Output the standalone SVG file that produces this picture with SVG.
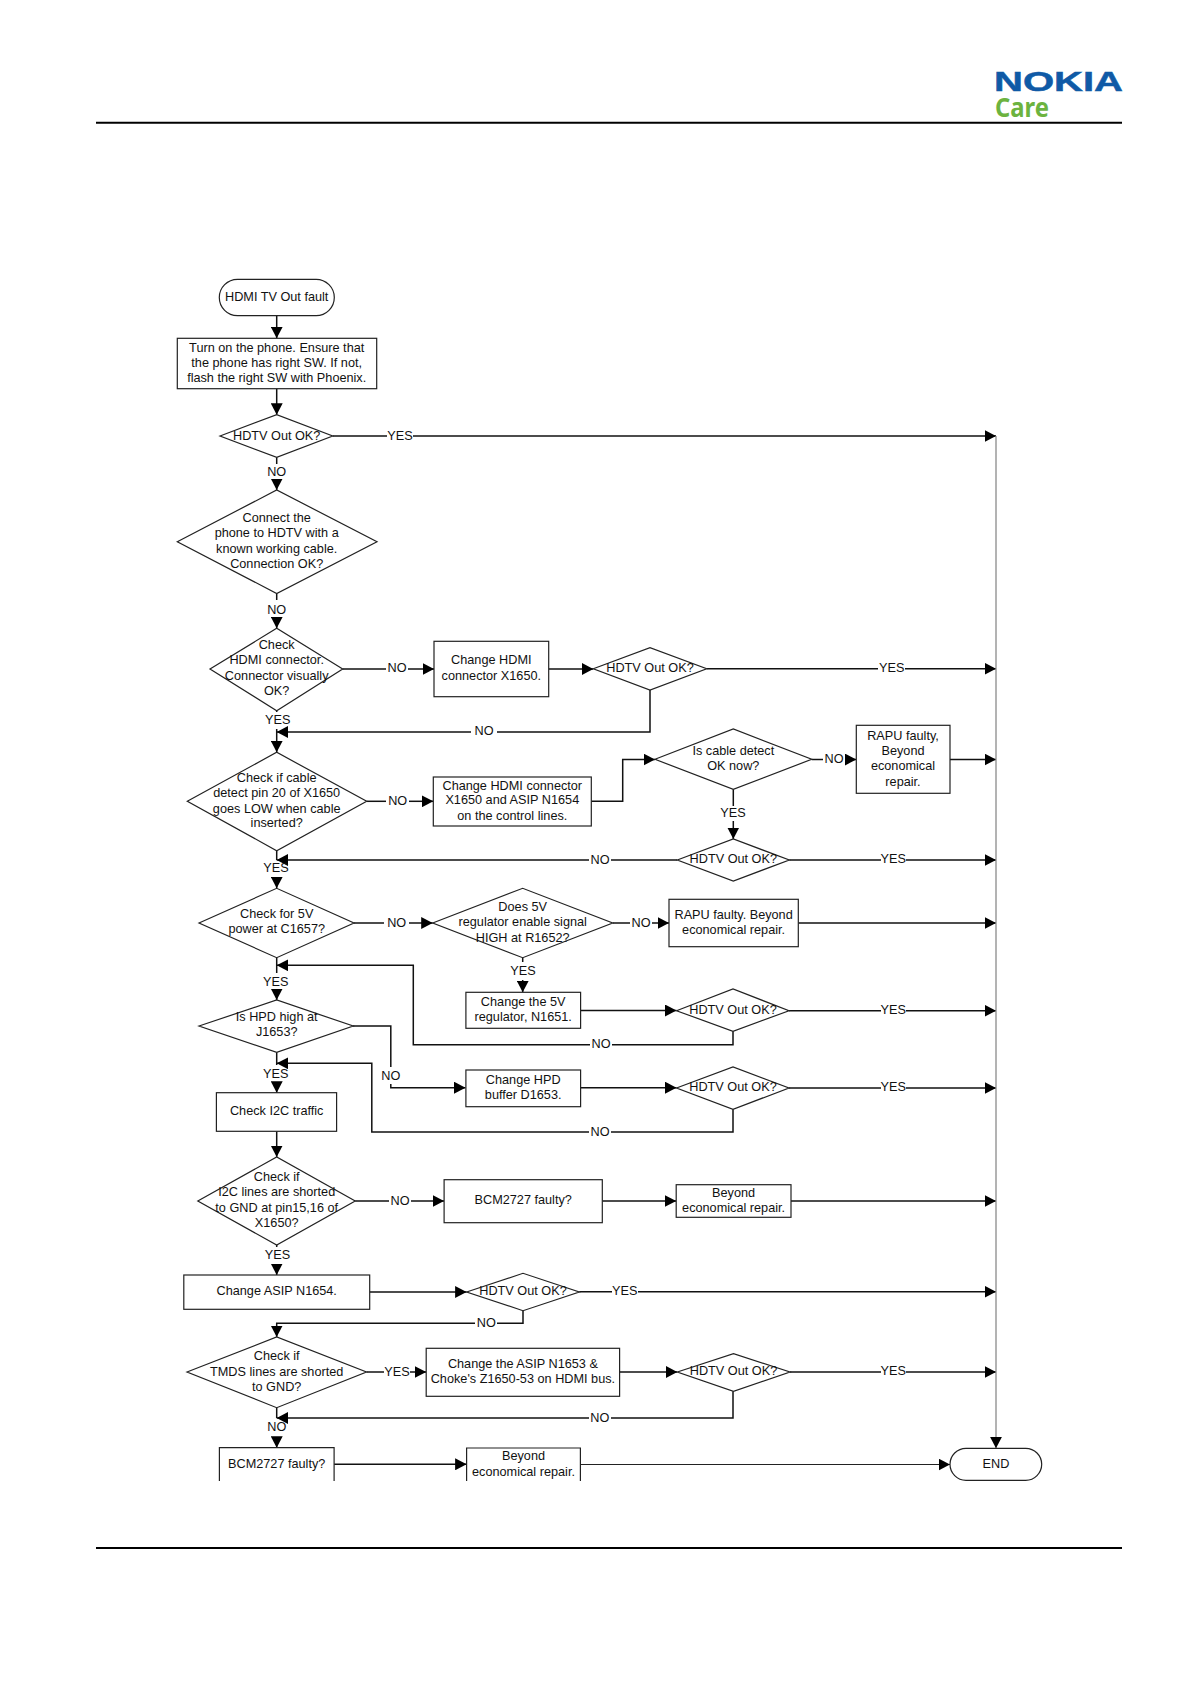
<svg xmlns="http://www.w3.org/2000/svg" width="1191" height="1684" viewBox="0 0 1191 1684">
<style>
text{font-family:"Liberation Sans",Arial,sans-serif;font-size:12.7px;fill:#111;text-anchor:middle;transform:translateY(-0.6px)}
.s{fill:#fff;stroke:#222;stroke-width:1.2}
.c{fill:none;stroke:#111;stroke-width:1.5}
.t{fill:none;stroke:#222;stroke-width:1.1}
.g{fill:none;stroke:#8a8a8a;stroke-width:1.3}
.r{stroke:#000;stroke-width:2}
.a{marker-end:url(#arrow)}
</style>
<defs>
<marker id="arrow" markerUnits="userSpaceOnUse" markerWidth="12" markerHeight="12" refX="11.5" refY="6" orient="auto"><path d="M0,0 L11.5,6 L0,12 Z" fill="#000"/></marker>
</defs>
<rect width="1191" height="1684" fill="#fff"/>
<g id="header">
<text x="1058.5" y="91.3" textLength="129" lengthAdjust="spacingAndGlyphs" style="font-size:28px;font-weight:bold;fill:#0f5aa6;stroke:#0f5aa6;stroke-width:0.5">NOKIA</text>
<text x="1022" y="117.6" textLength="54" lengthAdjust="spacingAndGlyphs" style="font-family:'Noto Sans',sans-serif;font-size:27px;font-weight:bold;fill:#6cb33f">Care</text>
<line class="r" x1="96" y1="122.7" x2="1122" y2="122.7"/>
</g>
<g id="footer"><line class="r" x1="96" y1="1548" x2="1122" y2="1548"/></g>
<g id="connectors">
<path class="c a" d="M276.7,315.7V338.3"/>
<path class="c a" d="M276.7,388.7V414.7"/>
<path class="c" d="M332.7,436H387"/><path class="c a" d="M413,436H996"/>
<path class="c" d="M276.7,457.3V464"/><path class="c a" d="M276.7,480V490"/>
<path class="c" d="M276.7,593.5V600"/><path class="c a" d="M276.7,618V628.3"/>
<path class="c" d="M342.7,669H386"/><path class="c a" d="M408,669H434"/>
<path class="c a" d="M548.7,669H593.3"/>
<path class="c" d="M706.7,668.7H878"/><path class="c a" d="M905,668.7H996"/>
<path class="c" d="M650,690V732H497"/><path class="c a" d="M471,732H276.7"/>
<path class="c" d="M276.7,710.7V712"/><path class="c a" d="M276.7,729V752.3"/>
<path class="c" d="M366.7,801.3H386"/><path class="c a" d="M409,801.3H433.3"/>
<path class="c a" d="M591.3,801.3H622.7V759.5H655"/>
<path class="c" d="M811.7,759.5H823"/><path class="c a" d="M845,759.5H856.3"/>
<path class="c a" d="M950,759.5H996"/>
<path class="c" d="M733.3,789.3V806"/><path class="c a" d="M733.3,821V839"/>
<path class="c" d="M789.3,860H881"/><path class="c a" d="M906,860H996"/>
<path class="c" d="M677.3,860H611"/><path class="c a" d="M589,860H276.7"/>
<path class="c" d="M276.7,850.7V860"/><path class="c a" d="M276.7,877V888.3"/>
<path class="c" d="M354,923H384"/><path class="c a" d="M409,923H432.7"/>
<path class="c" d="M612.7,923H630"/><path class="c a" d="M652,923H669"/>
<path class="c a" d="M798.3,923H996"/>
<path class="c" d="M522.7,957.7V962"/><path class="c a" d="M522.7,980V992.3"/>
<path class="c" d="M276.7,957.7V973"/><path class="c a" d="M276.7,991V1000"/>
<path class="c a" d="M580.6,1010.5H676.5"/>
<path class="c" d="M789,1010.7H881"/><path class="c a" d="M906,1010.7H996"/>
<path class="c" d="M733,1031.3V1044.7H612"/><path class="c a" d="M590,1044.7H413.3V965.3H276.7"/>
<path class="c" d="M353,1026H390.8V1067"/><path class="c a" d="M390.8,1084V1087.7H465.5"/>
<path class="c a" d="M580.6,1087.7H676.5"/>
<path class="c" d="M789,1088H881"/><path class="c a" d="M906,1088H996"/>
<path class="c" d="M733,1109.3V1132H611"/><path class="c a" d="M589,1132H371.8V1063.3H276.7"/>
<path class="c" d="M276.7,1052.3V1065"/><path class="c a" d="M276.7,1084V1092.7"/>
<path class="c a" d="M276.7,1131.3V1157"/>
<path class="c" d="M355.2,1201H389"/><path class="c a" d="M411,1201H444"/>
<path class="c a" d="M602.3,1201H676.2"/>
<path class="c a" d="M791,1201H996"/>
<path class="c" d="M276.7,1245V1247"/><path class="c a" d="M276.7,1264V1275"/>
<path class="c a" d="M369.7,1292H466.6"/>
<path class="c" d="M579.3,1291.7H612"/><path class="c a" d="M638,1291.7H996"/>
<path class="c" d="M523,1310.7V1323.3H497"/><path class="c a" d="M475,1323.3H276.7V1337"/>
<path class="c" d="M366.5,1372H384"/><path class="c a" d="M410,1372H426.2"/>
<path class="c a" d="M619.6,1372H677.3"/>
<path class="c" d="M790,1372H881"/><path class="c a" d="M906,1372H996"/>
<path class="c" d="M733,1391.3V1418H611"/><path class="c a" d="M589,1418H276.7"/>
<path class="c" d="M276.7,1407.7V1418"/><path class="c a" d="M276.7,1437V1447.7"/>
<path class="c a" d="M334.1,1464.3H466.6"/>
<path class="t a" d="M580.4,1464.5H950"/>
<path class="g a" d="M996,436V1448.3"/>
<text x="400" y="440.5">YES</text>
<text x="276.7" y="477">NO</text>
<text x="276.7" y="615">NO</text>
<text x="397" y="673">NO</text>
<text x="891.7" y="672.5">YES</text>
<text x="484" y="736">NO</text>
<text x="277.7" y="724.5">YES</text>
<text x="397.7" y="805.5">NO</text>
<text x="834" y="763.5">NO</text>
<text x="733" y="818">YES</text>
<text x="893.3" y="863.5">YES</text>
<text x="600" y="864.5">NO</text>
<text x="276" y="872.5">YES</text>
<text x="396.7" y="927.5">NO</text>
<text x="641" y="927.5">NO</text>
<text x="523" y="975.5">YES</text>
<text x="275.7" y="986.5">YES</text>
<text x="893.3" y="1014.5">YES</text>
<text x="601" y="1049">NO</text>
<text x="390.8" y="1080.5">NO</text>
<text x="893.3" y="1092">YES</text>
<text x="600" y="1136.5">NO</text>
<text x="275.7" y="1079">YES</text>
<text x="400" y="1205.5">NO</text>
<text x="277.5" y="1259.5">YES</text>
<text x="624.7" y="1295.5">YES</text>
<text x="486.3" y="1327.5">NO</text>
<text x="397" y="1376.5">YES</text>
<text x="893.3" y="1376">YES</text>
<text x="599.8" y="1422.5">NO</text>
<text x="276.8" y="1432">NO</text>
</g>
<g id="n-start"><rect class="s" x="219.3" y="279.3" width="115" height="36.4" rx="18.2"/><text x="276.7" y="301.5">HDMI TV Out fault</text></g>
<g id="n-turn-on"><rect class="s" x="177.3" y="338.3" width="199.4" height="50.4"/><text x="276.7" y="352.5">Turn on the phone. Ensure that</text><text x="276.7" y="367.5">the phone has right SW. If not,</text><text x="276.7" y="382.5">flash the right SW with Phoenix.</text></g>
<g id="n-d1"><polygon class="s" points="220,436 276.7,414.7 332.7,436 276.7,457.3"/><text x="276.7" y="440.5">HDTV Out OK?</text></g>
<g id="n-d2"><polygon class="s" points="177.3,541.7 276.7,490 377,541.7 276.7,593.5"/><text x="276.7" y="523">Connect the</text><text x="276.7" y="538">phone to HDTV with a</text><text x="276.7" y="553.2">known working cable.</text><text x="276.7" y="568.4">Connection OK?</text></g>
<g id="n-d3"><polygon class="s" points="210,669 276.7,628.3 342.7,669 276.7,710.7"/><text x="276.7" y="649.5">Check</text><text x="276.7" y="665">HDMI connector.</text><text x="276.7" y="680.5">Connector visually</text><text x="276.7" y="695.5">OK?</text></g>
<g id="n-change-hdmi"><rect class="s" x="434" y="641.3" width="114.7" height="55.4"/><text x="491.3" y="665">Change HDMI</text><text x="491.3" y="680.5">connector X1650.</text></g>
<g id="n-d4"><polygon class="s" points="593.3,668.7 650,647.7 706.7,668.7 650,690"/><text x="650" y="672.8">HDTV Out OK?</text></g>
<g id="n-d5"><polygon class="s" points="187.3,801.3 276.7,752.3 366.7,801.3 276.7,850.7"/><text x="276.7" y="782.5">Check if cable</text><text x="276.7" y="797.8">detect pin 20 of X1650</text><text x="276.7" y="813.3">goes LOW when cable</text><text x="276.7" y="828">inserted?</text></g>
<g id="n-change-hdmi-asip"><rect class="s" x="433.3" y="777" width="158" height="49"/><text x="512.3" y="790.5">Change HDMI connector</text><text x="512.3" y="805">X1650 and ASIP N1654</text><text x="512.3" y="820.3">on the control lines.</text></g>
<g id="n-d6"><polygon class="s" points="655,759.3 733.3,729 811.7,759.3 733.3,789.3"/><text x="733.3" y="755.5">Is cable detect</text><text x="733.3" y="770.5">OK now?</text></g>
<g id="n-rapu1"><rect class="s" x="856.3" y="725.3" width="93.7" height="68"/><text x="903" y="740.5">RAPU faulty,</text><text x="903" y="755.5">Beyond</text><text x="903" y="771">economical</text><text x="903" y="786.3">repair.</text></g>
<g id="n-d7"><polygon class="s" points="677.3,860 733.3,839 789.3,860 733.3,881"/><text x="733.3" y="864">HDTV Out OK?</text></g>
<g id="n-d8"><polygon class="s" points="199,923 276.7,888.3 354,923 276.7,957.7"/><text x="276.7" y="919">Check for 5V</text><text x="276.7" y="934">power at C1657?</text></g>
<g id="n-d9"><polygon class="s" points="432.7,923 522.7,888.3 612.7,923 522.7,957.7"/><text x="522.7" y="911.5">Does 5V</text><text x="522.7" y="927">regulator enable signal</text><text x="522.7" y="942.3">HIGH at R1652?</text></g>
<g id="n-rapu2"><rect class="s" x="669" y="899.3" width="129.3" height="47.4"/><text x="733.6" y="919.3">RAPU faulty. Beyond</text><text x="733.6" y="934.3">economical repair.</text></g>
<g id="n-change-5v"><rect class="s" x="465.9" y="992.3" width="114.7" height="36"/><text x="523.2" y="1006.6">Change the 5V</text><text x="523.2" y="1021.6">regulator, N1651.</text></g>
<g id="n-d10b"><polygon class="s" points="676.5,1010.7 733,989 789,1010.7 733,1031.3"/><text x="733" y="1014.8">HDTV Out OK?</text></g>
<g id="n-d10"><polygon class="s" points="199,1026 276.7,1000 353.2,1026 276.7,1052.3"/><text x="276.7" y="1022">Is HPD high at</text><text x="276.7" y="1037">J1653?</text></g>
<g id="n-change-hpd"><rect class="s" x="465.9" y="1070" width="114.7" height="36.7"/><text x="523.2" y="1084.4">Change HPD</text><text x="523.2" y="1099.4">buffer D1653.</text></g>
<g id="n-d11"><polygon class="s" points="676.5,1088 733,1067 789,1088 733,1109.3"/><text x="733" y="1092">HDTV Out OK?</text></g>
<g id="n-i2c"><rect class="s" x="216.4" y="1092.7" width="120.2" height="38.6"/><text x="276.7" y="1116">Check I2C traffic</text></g>
<g id="n-d12"><polygon class="s" points="197.8,1201 276.7,1157 355.2,1201 276.7,1245"/><text x="276.7" y="1181.6">Check if</text><text x="276.7" y="1197">I2C lines are shorted</text><text x="276.7" y="1212.3">to GND at pin15,16 of</text><text x="276.7" y="1227.6">X1650?</text></g>
<g id="n-bcm1"><rect class="s" x="444.1" y="1179.7" width="158.2" height="43"/><text x="523.2" y="1205">BCM2727 faulty?</text></g>
<g id="n-beyond1"><rect class="s" x="676.2" y="1184.7" width="114.8" height="32.6"/><text x="733.6" y="1197.3">Beyond</text><text x="733.6" y="1213">economical repair.</text></g>
<g id="n-asip"><rect class="s" x="183.8" y="1275" width="185.9" height="34.3"/><text x="276.7" y="1296">Change ASIP N1654.</text></g>
<g id="n-d13"><polygon class="s" points="466.6,1292 523,1273.3 579.3,1292 523,1310.7"/><text x="523" y="1296">HDTV Out OK?</text></g>
<g id="n-d14"><polygon class="s" points="187,1372 276.7,1337 366.5,1372 276.7,1407.7"/><text x="276.7" y="1361">Check if</text><text x="276.7" y="1376.3">TMDS lines are shorted</text><text x="276.7" y="1391.3">to GND?</text></g>
<g id="n-change-asip2"><rect class="s" x="426.2" y="1348.3" width="193.4" height="48"/><text x="522.9" y="1368.6">Change the ASIP N1653 &amp;</text><text x="522.9" y="1384">Choke's Z1650-53 on HDMI bus.</text></g>
<g id="n-d15"><polygon class="s" points="677.3,1372 733.5,1353.7 790,1372 733.5,1391.3"/><text x="733.5" y="1376">HDTV Out OK?</text></g>
<g id="n-bcm2"><path class="s" d="M219.4,1481V1447.7H334.1V1481"/><text x="276.7" y="1468.3">BCM2727 faulty?</text></g>
<g id="n-beyond2"><path class="s" d="M466.6,1481V1448H580.4V1481"/><text x="523.5" y="1461">Beyond</text><text x="523.5" y="1476.3">economical repair.</text></g>
<g id="n-end"><rect class="s" x="950" y="1448.3" width="91.7" height="32" rx="16"/><text x="996" y="1468.3">END</text></g>
</svg>
